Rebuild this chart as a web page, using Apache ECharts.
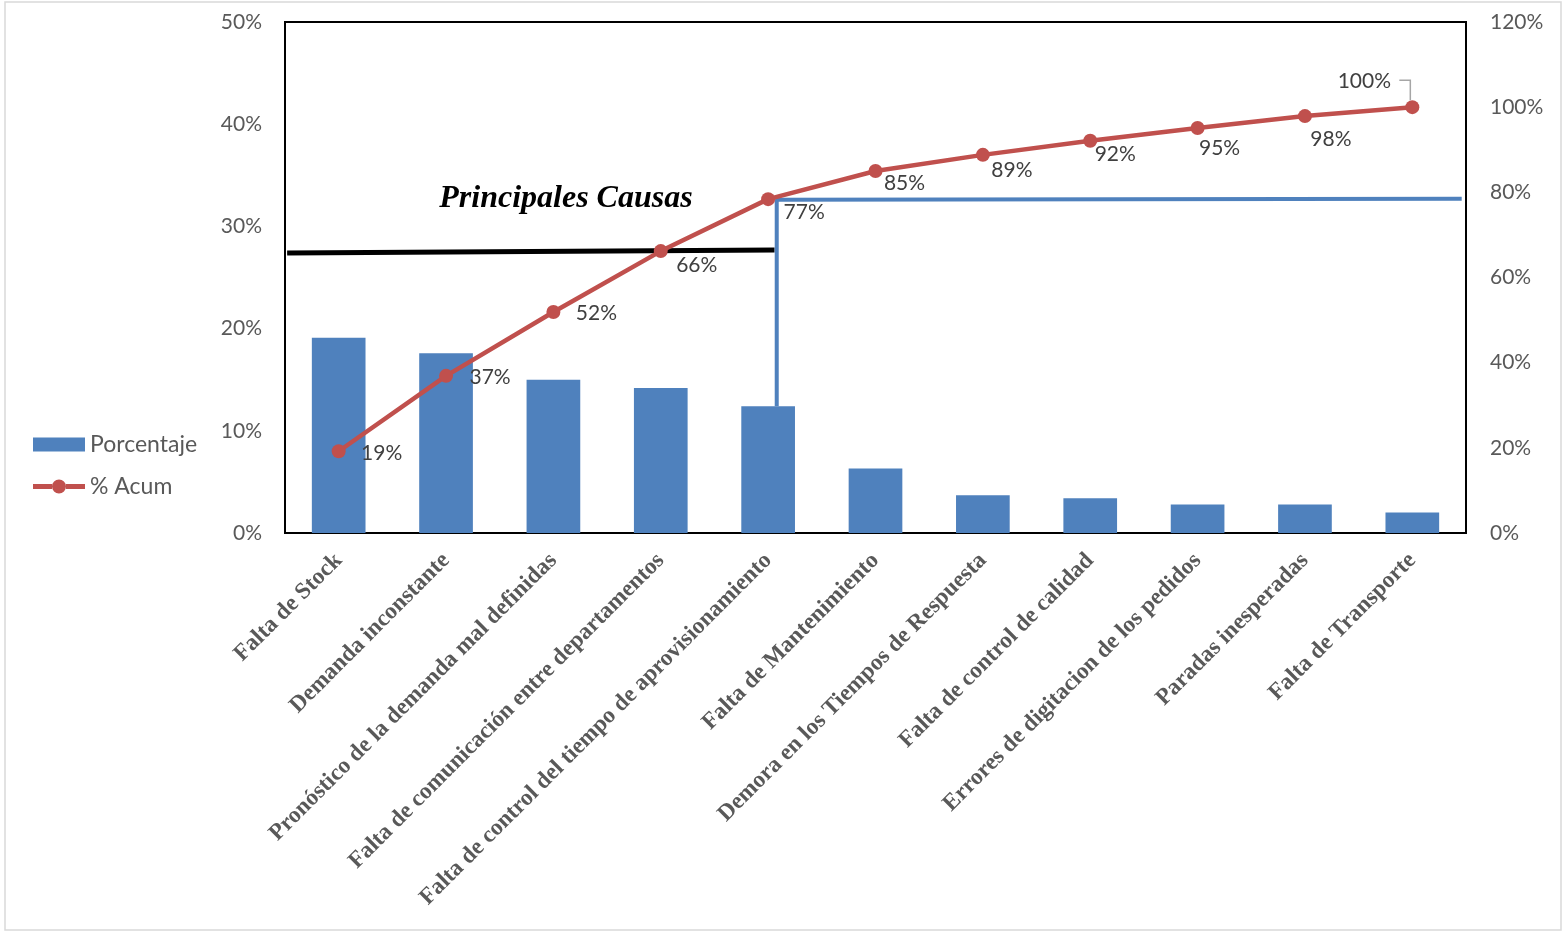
<!DOCTYPE html>
<html><head><meta charset="utf-8">
<script src="https://cdn.jsdelivr.net/npm/echarts@6/dist/echarts.min.js"></script>
<style>html,body{margin:0;padding:0;background:#fff}#c{width:1564px;height:932px}</style>
</head><body><div id="c"></div>
<script>
// ---- data ----
const categories = [
  'Falta de Stock',
  'Demanda inconstante',
  'Pronóstico de la demanda mal definidas',
  'Falta de comunicación entre departamentos',
  'Falta de control del tiempo de aprovisionamiento',
  'Falta de Mantenimiento',
  'Demora en los Tiempos de Respuesta',
  'Falta de control de calidad',
  'Errores de digitacion de los pedidos',
  'Paradas inesperadas',
  'Falta de Transporte'
];
const porcentaje = [19.1, 17.6, 15.0, 14.2, 12.4, 6.3, 3.7, 3.4, 2.8, 2.8, 2.0];
const acumulado = [19.2, 36.9, 51.9, 66.2, 78.4, 85.0, 88.8, 92.1, 95.1, 97.9, 100];
const acumLabels = ['19%', '37%', '52%', '66%', '77%', '85%', '89%', '92%', '95%', '98%', '100%'];
const leftAxisTicks = [0, 10, 20, 30, 40, 50];
const rightAxisTicks = [0, 20, 40, 60, 80, 100, 120];
// annotation lines: [category position, % on left axis]
const principalesLine = [[-0.48, 27.4], [4.06, 27.7]];
const corteLine = [[4.08, 12.4], [4.08, 32.6], [10.46, 32.7]];
const annotationText = 'Principales Causas';

// ---- styling ----
const labelOffsets = [[43,2],[44,1],[43,1],[36,14],[36,13],[29,12],[29,15],[25,13],[22,20],[26,23],[-48,-26]];
const SANS = 'Lato, "Open Sans", sans-serif';
const SERIF = '"Liberation Serif", "DejaVu Serif", serif';
const gray = '#595959';
const acumIcon = 'path://M0,4.5 L19,4.5 L19,9.5 L0,9.5 Z M33,4.5 L52,4.5 L52,9.5 L33,9.5 Z M19,7 A7,7 0 1,1 33,7 A7,7 0 1,1 19,7 Z';

const chart = echarts.init(document.getElementById('c'), null, {renderer: 'canvas'});
const option = {
  animation: false,
  backgroundColor: '#fff',
  grid: {left: 285, top: 22, right: 98, bottom: 399, show: true, borderColor: '#000', borderWidth: 2, backgroundColor: 'transparent'},
  legend: {
    orient: 'vertical', left: 28, top: 428,
    itemWidth: 52, itemHeight: 14, itemGap: 19,
    data: [{name: 'Porcentaje', icon: 'rect'}, {name: '% Acum', icon: acumIcon}],
    textStyle: {fontFamily: SANS, fontSize: 23, color: gray}
  },
  xAxis: [
    {type: 'category', data: categories, gridIndex: 0,
     axisLine: {show: false}, axisTick: {show: false},
     axisLabel: {rotate: 45, interval: 0, margin: 24, fontFamily: SERIF, fontWeight: 'bold', fontSize: 23.3, color: gray}},
    {type: 'value', min: -0.5, max: 10.5, gridIndex: 0, show: false}
  ],
  yAxis: [
    {type: 'value', min: leftAxisTicks[0], max: leftAxisTicks[leftAxisTicks.length-1], interval: leftAxisTicks[1]-leftAxisTicks[0],
     splitLine: {show: false}, axisLine: {show: false}, axisTick: {show: false},
     axisLabel: {formatter: '{value}%', margin: 23, fontFamily: SANS, fontSize: 21, color: gray}},
    {type: 'value', min: rightAxisTicks[0], max: rightAxisTicks[rightAxisTicks.length-1], interval: rightAxisTicks[1]-rightAxisTicks[0],
     position: 'right', splitLine: {show: false}, axisLine: {show: false}, axisTick: {show: false},
     axisLabel: {formatter: '{value}%', margin: 24, fontFamily: SANS, fontSize: 21, color: gray}}
  ],
  series: [
    {name: 'Porcentaje', type: 'bar', data: porcentaje, barWidth: '50%', xAxisIndex: 0, yAxisIndex: 0,
     itemStyle: {color: '#4F81BD'}, z: 2},
    {name: 'Principales', type: 'line', xAxisIndex: 1, yAxisIndex: 0, data: principalesLine,
     symbol: 'none', silent: true, lineStyle: {color: '#000', width: 5}, z: 3},
    {name: 'Corte', type: 'line', xAxisIndex: 1, yAxisIndex: 0, data: corteLine,
     symbol: 'none', silent: true, lineStyle: {color: '#4F81BD', width: 4}, z: 3},
    {name: '% Acum', type: 'line', xAxisIndex: 0, yAxisIndex: 1,
     data: acumulado.map((v, i) => ({value: v, label: {offset: labelOffsets[i], formatter: acumLabels[i]}})),
     symbol: 'circle', symbolSize: 14,
     lineStyle: {color: '#C0504D', width: 4.5}, itemStyle: {color: '#C0504D'},
     label: {show: true, position: 'inside', fontFamily: SANS, fontSize: 21, color: '#404040'},
     z: 5}
  ]
};
chart.setOption(option);

// annotation title and leader line for last label
const tPos = chart.convertToPixel({xAxisIndex: 1, yAxisIndex: 0}, [2.117, 32.7]);
const last = chart.convertToPixel({xAxisIndex: 0, yAxisIndex: 1}, [acumulado.length - 1, acumulado[acumulado.length - 1]]);
chart.setOption({
  graphic: [
    {type: 'rect', shape: {x: 5, y: 2, width: 1556, height: 928}, style: {fill: 'none', stroke: '#D9D9D9', lineWidth: 1.5}, silent: true},
    {type: 'text', x: tPos[0], y: tPos[1], style: {text: annotationText, font: 'italic bold 32px ' + SERIF, fill: '#000', textAlign: 'center', textVerticalAlign: 'middle'}, z: 10},
    {type: 'polyline', shape: {points: [[last[0] - 13, last[1] - 27], [last[0] - 2, last[1] - 27], [last[0] - 2, last[1] - 7]]}, style: {stroke: '#A6A6A6', lineWidth: 1.5, fill: 'none'}, z: 10}
  ]
});
</script>
</body></html>
